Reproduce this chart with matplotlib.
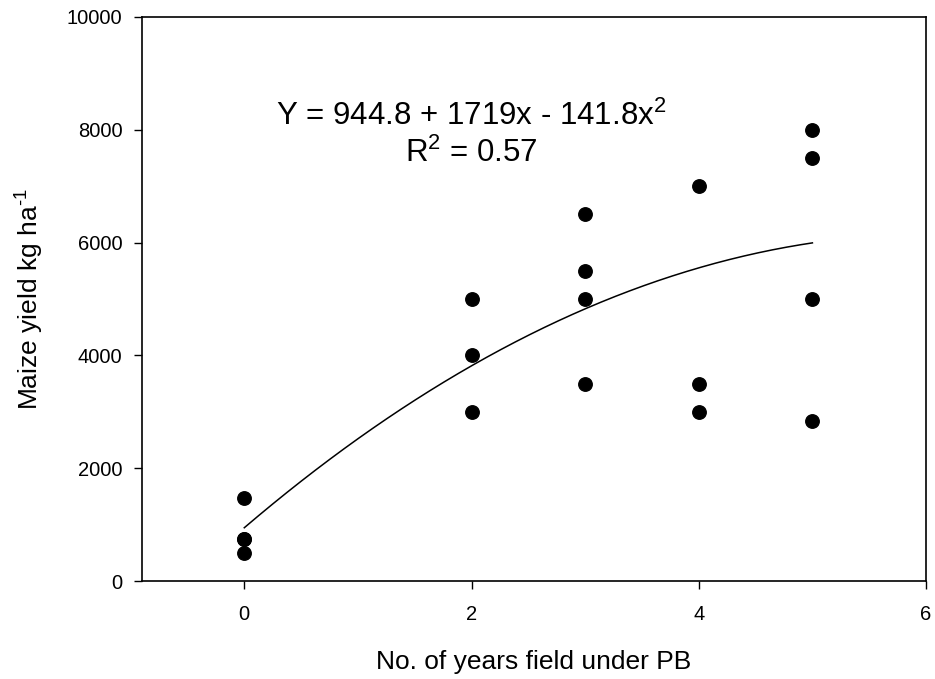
import matplotlib
matplotlib.use("Agg")
import matplotlib.pyplot as plt
import numpy as np

plt.rcParams['font.family'] = ['Liberation Sans', 'DejaVu Sans']
plt.rcParams['mathtext.fontset'] = 'custom'
plt.rcParams['mathtext.rm'] = 'Liberation Sans'
plt.rcParams['mathtext.it'] = 'Liberation Sans:italic'

# years under PB and maize yield (kg/ha)
years = [0, 0, 0, 0, 2, 2, 2, 3, 3, 3, 3, 4, 4, 4, 5, 5, 5, 5]
yields = [1465, 750, 750, 500, 5000, 4000, 3000, 6500, 5500, 5000, 3500,
          7000, 3500, 3000, 8000, 7500, 5000, 2840]

# fitted quadratic Y = a + b x + c x^2
coef = [944.8, 1719, -141.8]
r2 = 0.57

fig = plt.figure(figsize=(9.35, 6.79), dpi=100)
ax = fig.add_axes([0.1519, 0.1443, 0.8385, 0.8307])

ax.scatter(years, yields, s=94, color='black', zorder=3)

xf = np.linspace(0, 5, 200)
yf = coef[0] + coef[1] * xf + coef[2] * xf ** 2
ax.plot(xf, yf, color='black', lw=1.1)

ax.set_xlim(-0.9, 6)
ax.set_ylim(0, 10000)
ax.set_xticks([0, 2, 4, 6])
ax.set_yticks([0, 2000, 4000, 6000, 8000, 10000])
ax.tick_params(direction='out', length=6, width=1, labelsize=14.5, pad=11)
ax.tick_params(axis='y', pad=8)
for s in ax.spines.values():
    s.set_linewidth(1.2)

ax.set_xlabel('No. of years field under PB', fontsize=19, labelpad=19)
ax.set_ylabel('Maize yield kg ha$^{\u2010 1}$', fontsize=19, labelpad=15)

ax.text(2.0, 8085, 'Y = 944.8 + 1719x - 141.8x$^{2}$', fontsize=22.5,
        ha='center', va='baseline')
ax.text(2.0, 7434, 'R$^{2}$ = ' + str(r2), fontsize=22.5, ha='center', va='baseline')

fig.savefig('out.png', dpi=100)
